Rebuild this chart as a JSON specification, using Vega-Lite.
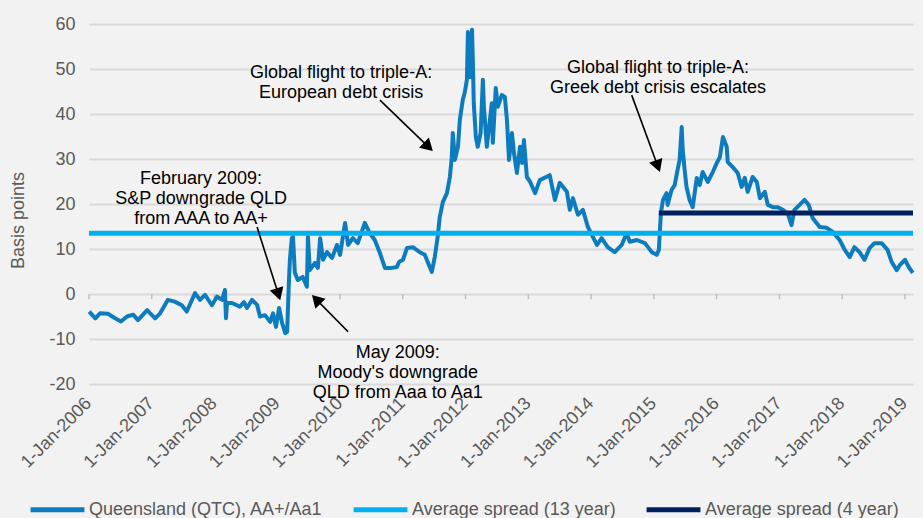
{
  "$schema": "https://vega.github.io/schema/vega-lite/v6.json",
  "width": 824,
  "height": 360,
  "autosize": {"type": "none"},
  "padding": {"left": 89, "top": 24, "right": 10, "bottom": 134},
  "background": "#f2f2f2",
  "config": {
    "view": {"stroke": null},
    "font": "Liberation Sans",
    "axisX": {
      "title": null, "labelExpr": "utcFormat(datum.value, '%-d-%b-%Y')", "labelAngle": -45,
      "tickCount": {"interval": "year", "step": 1}, "ticks": false, "domain": false, "grid": false,
      "labelFontSize": 18, "labelColor": "#595959", "labelPadding": 10, "labelOffset": -7, "labelOverlap": false, "labelFlush": false
    },
    "axisY": {
      "values": [-20, -10, 0, 10, 20, 30, 40, 50, 60], "labelExpr": "'' + datum.value", "grid": true, "gridColor": "#d9d9d9", "gridWidth": 2,
      "domain": false, "ticks": false, "labelFontSize": 18, "labelColor": "#595959", "labelPadding": 14,
      "titleFontSize": 18, "titleFontWeight": "normal", "titleColor": "#595959", "titleX": -62, "titleY": 196, "titleAlign": "center"
    },
    "legend": {
      "title": null, "orient": "none", "legendX": -61, "legendY": 456, "direction": "horizontal",
      "symbolType": "stroke", "symbolSize": 2900, "symbolStrokeWidth": 5, "labelFontSize": 18,
      "labelColor": "#595959", "columnPadding": 20, "labelOffset": 2, "padding": 0, "labelLimit": 400
    }
  },
  "datasets": {
    "series": [
      {"date": "2006-01-02", "value": -3.9}, {"date": "2006-02-07", "value": -5.4}, {"date": "2006-03-06", "value": -4.3},
      {"date": "2006-04-21", "value": -4.4}, {"date": "2006-06-02", "value": -5.4}, {"date": "2006-07-06", "value": -6.1},
      {"date": "2006-08-10", "value": -5.0}, {"date": "2006-09-15", "value": -4.6}, {"date": "2006-10-13", "value": -5.8},
      {"date": "2006-12-05", "value": -3.6}, {"date": "2007-01-21", "value": -5.4}, {"date": "2007-02-19", "value": -4.3},
      {"date": "2007-04-05", "value": -1.3}, {"date": "2007-05-15", "value": -1.7}, {"date": "2007-06-25", "value": -2.5},
      {"date": "2007-07-24", "value": -3.9}, {"date": "2007-09-10", "value": 0.2}, {"date": "2007-10-09", "value": -1.3},
      {"date": "2007-11-07", "value": -0.2}, {"date": "2007-12-17", "value": -2.5}, {"date": "2008-01-16", "value": -0.6},
      {"date": "2008-02-14", "value": -1.3}, {"date": "2008-03-02", "value": 0.9}, {"date": "2008-03-08", "value": -5.4},
      {"date": "2008-03-14", "value": -2.0}, {"date": "2008-04-12", "value": -2.0}, {"date": "2008-05-28", "value": -2.8},
      {"date": "2008-06-21", "value": -1.8}, {"date": "2008-07-08", "value": -3.1}, {"date": "2008-08-07", "value": -1.3},
      {"date": "2008-09-05", "value": -2.4}, {"date": "2008-09-22", "value": -5.0}, {"date": "2008-10-21", "value": -4.7},
      {"date": "2008-11-20", "value": -6.2}, {"date": "2008-12-07", "value": -4.3}, {"date": "2008-12-24", "value": -7.3},
      {"date": "2009-01-11", "value": -3.1}, {"date": "2009-01-29", "value": -6.5}, {"date": "2009-02-16", "value": -8.7},
      {"date": "2009-02-27", "value": -8.4}, {"date": "2009-03-09", "value": 2.4}, {"date": "2009-03-15", "value": 7.6},
      {"date": "2009-03-26", "value": 12.4}, {"date": "2009-04-02", "value": 12.7}, {"date": "2009-04-13", "value": 4.7},
      {"date": "2009-04-30", "value": 3.1}, {"date": "2009-05-29", "value": 3.8}, {"date": "2009-06-22", "value": 1.6},
      {"date": "2009-06-28", "value": 12.7}, {"date": "2009-07-09", "value": 5.3}, {"date": "2009-08-08", "value": 6.9},
      {"date": "2009-08-25", "value": 5.8}, {"date": "2009-09-07", "value": 12.4}, {"date": "2009-09-24", "value": 7.6},
      {"date": "2009-10-17", "value": 9.3}, {"date": "2009-11-15", "value": 8.0}, {"date": "2009-12-14", "value": 10.9},
      {"date": "2010-01-01", "value": 8.7}, {"date": "2010-01-30", "value": 15.8}, {"date": "2010-02-17", "value": 10.9},
      {"date": "2010-03-16", "value": 12.4}, {"date": "2010-04-14", "value": 11.3}, {"date": "2010-05-25", "value": 15.8},
      {"date": "2010-06-23", "value": 13.5}, {"date": "2010-07-22", "value": 12.0}, {"date": "2010-08-21", "value": 9.1},
      {"date": "2010-09-19", "value": 5.8}, {"date": "2010-10-30", "value": 5.8}, {"date": "2010-11-28", "value": 6.0},
      {"date": "2010-12-10", "value": 7.1}, {"date": "2011-01-02", "value": 7.6}, {"date": "2011-01-25", "value": 10.2},
      {"date": "2011-02-28", "value": 10.4}, {"date": "2011-04-10", "value": 9.3}, {"date": "2011-05-09", "value": 8.7},
      {"date": "2011-05-26", "value": 7.1}, {"date": "2011-06-19", "value": 4.9}, {"date": "2011-07-06", "value": 8.2},
      {"date": "2011-07-23", "value": 12.7}, {"date": "2011-08-04", "value": 17.1}, {"date": "2011-08-22", "value": 20.4},
      {"date": "2011-09-15", "value": 22.4}, {"date": "2011-10-02", "value": 26.0}, {"date": "2011-10-13", "value": 30.4},
      {"date": "2011-10-19", "value": 35.8}, {"date": "2011-10-31", "value": 29.8}, {"date": "2011-11-18", "value": 32.7},
      {"date": "2011-11-29", "value": 38.7}, {"date": "2011-12-16", "value": 43.1}, {"date": "2011-12-28", "value": 44.9},
      {"date": "2012-01-09", "value": 47.6}, {"date": "2012-01-15", "value": 58.2}, {"date": "2012-01-26", "value": 48.2},
      {"date": "2012-02-08", "value": 58.7}, {"date": "2012-02-13", "value": 51.3}, {"date": "2012-02-18", "value": 42.4},
      {"date": "2012-03-01", "value": 34.9}, {"date": "2012-03-12", "value": 32.7}, {"date": "2012-03-29", "value": 35.8},
      {"date": "2012-04-11", "value": 47.6}, {"date": "2012-04-17", "value": 41.6}, {"date": "2012-05-04", "value": 32.7},
      {"date": "2012-05-15", "value": 36.4}, {"date": "2012-06-02", "value": 42.4}, {"date": "2012-06-08", "value": 33.6},
      {"date": "2012-06-25", "value": 45.8}, {"date": "2012-07-07", "value": 41.6}, {"date": "2012-07-30", "value": 44.2},
      {"date": "2012-08-17", "value": 43.8}, {"date": "2012-08-29", "value": 38.7}, {"date": "2012-09-10", "value": 29.8},
      {"date": "2012-09-27", "value": 35.8}, {"date": "2012-10-09", "value": 31.3}, {"date": "2012-10-26", "value": 26.9},
      {"date": "2012-11-13", "value": 32.7}, {"date": "2012-11-25", "value": 29.1}, {"date": "2012-12-06", "value": 34.2},
      {"date": "2012-12-23", "value": 26.0}, {"date": "2013-01-10", "value": 25.0}, {"date": "2013-02-09", "value": 22.4},
      {"date": "2013-03-08", "value": 25.3}, {"date": "2013-05-05", "value": 26.4}, {"date": "2013-06-04", "value": 20.9},
      {"date": "2013-07-02", "value": 24.7}, {"date": "2013-08-13", "value": 22.7}, {"date": "2013-08-30", "value": 18.7},
      {"date": "2013-09-17", "value": 21.3}, {"date": "2013-10-16", "value": 17.6}, {"date": "2013-11-14", "value": 18.7},
      {"date": "2013-12-13", "value": 14.9}, {"date": "2014-01-11", "value": 12.7}, {"date": "2014-02-04", "value": 10.9},
      {"date": "2014-03-03", "value": 12.4}, {"date": "2014-04-07", "value": 10.4}, {"date": "2014-05-18", "value": 9.3},
      {"date": "2014-06-28", "value": 10.9}, {"date": "2014-07-26", "value": 13.5}, {"date": "2014-08-14", "value": 11.6},
      {"date": "2014-09-24", "value": 12.0}, {"date": "2014-11-10", "value": 11.3}, {"date": "2014-12-20", "value": 9.3},
      {"date": "2015-01-18", "value": 8.7}, {"date": "2015-01-30", "value": 9.8}, {"date": "2015-02-11", "value": 18.0},
      {"date": "2015-02-23", "value": 20.9}, {"date": "2015-03-16", "value": 22.4}, {"date": "2015-03-22", "value": 19.8},
      {"date": "2015-04-14", "value": 23.1}, {"date": "2015-05-02", "value": 24.2}, {"date": "2015-05-19", "value": 27.6},
      {"date": "2015-05-31", "value": 29.8}, {"date": "2015-06-12", "value": 37.1}, {"date": "2015-06-18", "value": 32.0},
      {"date": "2015-06-29", "value": 27.6}, {"date": "2015-07-10", "value": 23.8}, {"date": "2015-07-28", "value": 20.9},
      {"date": "2015-08-15", "value": 19.3}, {"date": "2015-09-08", "value": 25.8}, {"date": "2015-09-25", "value": 24.2},
      {"date": "2015-10-12", "value": 27.1}, {"date": "2015-11-11", "value": 24.9}, {"date": "2015-12-10", "value": 27.1},
      {"date": "2016-01-02", "value": 29.1}, {"date": "2016-01-20", "value": 30.4}, {"date": "2016-02-07", "value": 34.9},
      {"date": "2016-02-29", "value": 32.7}, {"date": "2016-03-06", "value": 29.3}, {"date": "2016-04-04", "value": 28.2},
      {"date": "2016-05-03", "value": 26.9}, {"date": "2016-05-26", "value": 23.8}, {"date": "2016-06-13", "value": 25.8},
      {"date": "2016-06-30", "value": 22.7}, {"date": "2016-07-29", "value": 26.0}, {"date": "2016-08-22", "value": 24.9},
      {"date": "2016-09-09", "value": 21.3}, {"date": "2016-10-08", "value": 22.7}, {"date": "2016-10-25", "value": 19.8},
      {"date": "2016-11-24", "value": 19.3}, {"date": "2016-12-22", "value": 19.3}, {"date": "2017-01-21", "value": 18.7},
      {"date": "2017-02-19", "value": 17.8}, {"date": "2017-03-12", "value": 15.3}, {"date": "2017-03-29", "value": 18.7},
      {"date": "2017-04-28", "value": 19.8}, {"date": "2017-05-27", "value": 20.9}, {"date": "2017-06-20", "value": 19.8},
      {"date": "2017-07-13", "value": 16.9}, {"date": "2017-08-23", "value": 14.9}, {"date": "2017-10-03", "value": 14.7},
      {"date": "2017-11-07", "value": 13.8}, {"date": "2017-12-17", "value": 12.0}, {"date": "2018-01-16", "value": 9.8},
      {"date": "2018-02-14", "value": 8.2}, {"date": "2018-03-13", "value": 10.4}, {"date": "2018-04-12", "value": 9.3},
      {"date": "2018-05-11", "value": 7.6}, {"date": "2018-06-09", "value": 10.2}, {"date": "2018-07-08", "value": 11.3},
      {"date": "2018-08-18", "value": 11.3}, {"date": "2018-09-22", "value": 9.8}, {"date": "2018-10-16", "value": 7.1},
      {"date": "2018-11-14", "value": 5.3}, {"date": "2018-12-02", "value": 6.4}, {"date": "2019-01-01", "value": 7.6},
      {"date": "2019-01-23", "value": 6.0}, {"date": "2019-02-16", "value": 4.7}
    ],
    "averages": [
      {"series": "Average spread (13 year)", "start": "2006-01-01", "end": "2019-02-17", "value": 13.5},
      {"series": "Average spread (4 year)", "start": "2015-01-30", "end": "2019-02-17", "value": 18.0}
    ],
    "years": [
      {"date": "2006-01-01"}, {"date": "2007-01-01"}, {"date": "2008-01-01"}, {"date": "2009-01-01"}, {"date": "2010-01-01"},
      {"date": "2011-01-01"}, {"date": "2012-01-01"}, {"date": "2013-01-01"}, {"date": "2014-01-01"}, {"date": "2015-01-01"},
      {"date": "2016-01-01"}, {"date": "2017-01-01"}, {"date": "2018-01-01"}, {"date": "2019-01-01"}
    ],
    "notes": [
      {"text": "February 2009:\nS&P downgrade  QLD\nfrom AAA to AA+", "date": "2007-10-15", "value": 25.6},
      {"text": "Global flight to triple-A:\nEuropean debt crisis", "date": "2010-01-07", "value": 49.1},
      {"text": "Global flight to triple-A:\nGreek debt crisis escalates", "date": "2015-01-25", "value": 50.2},
      {"text": "May 2009:\nMoody's downgrade\nQLD from Aaa to Aa1", "date": "2010-12-03", "value": -13.1}
    ],
    "arrows": [
      {"id": 1, "date_from": "2008-09-05", "value_from": 14.9, "date_to": "2009-01-07", "value_to": -0.07},
      {"id": 2, "date_from": "2010-02-17", "value_from": -8.4, "date_to": "2009-08-15", "value_to": -1.2},
      {"id": 3, "date_from": "2010-08-21", "value_from": 43.1, "date_to": "2011-05-30", "value_to": 32.7},
      {"id": 4, "date_from": "2014-08-25", "value_from": 44.2, "date_to": "2015-01-24", "value_to": 28.4}
    ]
  },
  "layer": [
    {
      "data": {"name": "years"},
      "mark": {"type": "rule", "strokeWidth": 1.5, "color": "#bfbfbf"},
      "encoding": {
        "x": {
          "field": "date", "type": "temporal", "title": null,
          "scale": {"type": "utc", "domain": [{"year": 2006, "month": 1, "date": 1, "utc": true}, {"year": 2019, "month": 2, "date": 17, "utc": true}]}
        },
        "y": {"datum": 0, "type": "quantitative", "title": "Basis points", "scale": {"domain": [-20, 60], "nice": false}},
        "y2": {"datum": -1.15}
      }
    },
    {
      "data": {"name": "series"},
      "mark": {"type": "line", "strokeWidth": 4, "strokeJoin": "round"},
      "encoding": {
        "x": {"field": "date", "type": "temporal", "title": null},
        "y": {"field": "value", "type": "quantitative", "title": "Basis points"},
        "color": {
          "datum": "Queensland (QTC), AA+/Aa1",
          "scale": {
            "domain": ["Queensland (QTC), AA+/Aa1", "Average spread (13 year)", "Average spread (4 year)"],
            "range": ["#0c7cbf", "#00b0f0", "#002060"]
          },
          "title": null
        }
      }
    },
    {
      "data": {"name": "averages"},
      "mark": {"type": "rule", "strokeWidth": 5},
      "encoding": {
        "x": {"field": "start", "type": "temporal", "title": null},
        "x2": {"field": "end"},
        "y": {"field": "value", "type": "quantitative", "title": "Basis points"},
        "color": {"field": "series", "type": "nominal", "title": null}
      }
    },
    {
      "data": {"name": "notes"},
      "mark": {"type": "text", "fontSize": 18, "color": "#000000", "align": "center", "baseline": "middle", "lineBreak": "\n", "lineHeight": 20},
      "encoding": {
        "x": {"field": "date", "type": "temporal", "title": null},
        "y": {"field": "value", "type": "quantitative", "title": "Basis points"},
        "text": {"field": "text"}
      }
    },
    {
      "data": {"name": "arrows"},
      "mark": {"type": "rule", "strokeWidth": 1.6, "color": "#000000"},
      "encoding": {
        "x": {"field": "date_from", "type": "temporal", "title": null},
        "x2": {"field": "date_to"},
        "y": {"field": "value_from", "type": "quantitative", "title": "Basis points"},
        "y2": {"field": "value_to"}
      }
    },
    {
      "data": {"name": "arrows"},
      "transform": [{"filter": "datum.id == 1"}],
      "mark": {"type": "point", "shape": "triangle-up", "filled": true, "color": "#000000", "opacity": 1, "size": 200, "angle": 162.5},
      "encoding": {
        "x": {"field": "date_to", "type": "temporal", "title": null},
        "y": {"field": "value_to", "type": "quantitative", "title": "Basis points"}
      }
    },
    {
      "data": {"name": "arrows"},
      "transform": [{"filter": "datum.id == 2"}],
      "mark": {"type": "point", "shape": "triangle-up", "filled": true, "color": "#000000", "opacity": 1, "size": 200, "angle": 315.8},
      "encoding": {
        "x": {"field": "date_to", "type": "temporal", "title": null},
        "y": {"field": "value_to", "type": "quantitative", "title": "Basis points"}
      }
    },
    {
      "data": {"name": "arrows"},
      "transform": [{"filter": "datum.id == 3"}],
      "mark": {"type": "point", "shape": "triangle-up", "filled": true, "color": "#000000", "opacity": 1, "size": 200, "angle": 133.9},
      "encoding": {
        "x": {"field": "date_to", "type": "temporal", "title": null},
        "y": {"field": "value_to", "type": "quantitative", "title": "Basis points"}
      }
    },
    {
      "data": {"name": "arrows"},
      "transform": [{"filter": "datum.id == 4"}],
      "mark": {"type": "point", "shape": "triangle-up", "filled": true, "color": "#000000", "opacity": 1, "size": 200, "angle": 160},
      "encoding": {
        "x": {"field": "date_to", "type": "temporal", "title": null},
        "y": {"field": "value_to", "type": "quantitative", "title": "Basis points"}
      }
    }
  ]
}
